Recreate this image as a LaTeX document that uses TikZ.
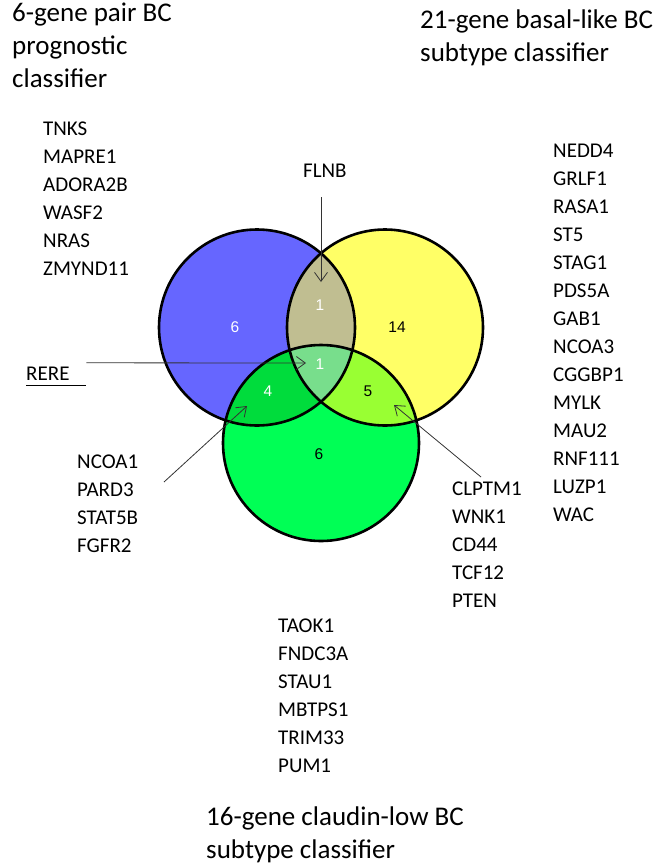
\documentclass[tikz,border=0pt]{standalone}
\usepackage{fontspec}
\setmainfont{Carlito}
\newfontfamily\numfont{Liberation Sans}
\usetikzlibrary{arrows.meta}

\definecolor{setblue}{RGB}{102,102,255}
\definecolor{setyellow}{RGB}{255,255,102}
\definecolor{setgreen}{RGB}{0,255,85}
\definecolor{byblend}{RGB}{192,190,145}
\definecolor{bgblend}{RGB}{0,220,60}
\definecolor{ygblend}{RGB}{153,255,51}
\definecolor{allblend}{RGB}{120,222,140}

\tikzset{
	title/.style={anchor=north west, inner sep=0pt, align=left, font=\fontsize{27}{33}\selectfont},
	genes/.style={anchor=north west, inner sep=0pt, align=left, font=\fontsize{21}{28}\selectfont},
	count/.style={font=\numfont\fontsize{15.5}{15.5}\selectfont},
	pointer/.style={draw=black!80, line width=0.8pt, -{Straight Barb[length=9pt,width=13pt]}},
	ring/.style={draw=black, line width=2.6pt}
}

\begin{document}
\begin{tikzpicture}[x=1pt, y=-1pt]
	\useasboundingbox (0,0) rectangle (660,868);

	% set centres
	\coordinate (cblue) at (257,327.5);
	\coordinate (cyellow) at (385,327.5);
	\coordinate (cgreen) at (321,443);

	% fills
	\fill[setblue] (cblue) circle (98);
	\fill[setyellow] (cyellow) circle (98);
	\fill[setgreen] (cgreen) circle (98);
	\begin{scope}
		\clip (cblue) circle (98);
		\fill[byblend] (cyellow) circle (98);
		\fill[bgblend] (cgreen) circle (98);
	\end{scope}
	\begin{scope}
		\clip (cyellow) circle (98);
		\fill[ygblend] (cgreen) circle (98);
		\clip (cgreen) circle (98);
		\fill[allblend] (cblue) circle (98);
	\end{scope}
	\draw[ring] (cblue) circle (98);
	\draw[ring] (cyellow) circle (98);
	\draw[ring] (cgreen) circle (98);

	% counts
	\node[count, white] (nblue) at (235,327) {6};
	\node[count, white] (nby) at (320,305) {1};
	\node[count] (nyellow) at (397,327) {14};
	\node[count, white] (nall) at (320,364) {1};
	\node[count, white] (nbg) at (268,391) {4};
	\node[count] (nyg) at (368,391) {5};
	\node[count] (ngreen) at (319,454) {6};

	% titles
	\node[title] (tblue) at (12,3) {6-gene pair BC\\prognostic\\classifier};
	\node[title] (tyellow) at (420,10) {21-gene basal-like BC\\subtype classifier};
	\node[title] (tgreen) at (206,807) {16-gene claudin-low BC\\subtype classifier};

	% gene lists
	\node[genes] (lblue) at (43,122) {TNKS\\MAPRE1\\ADORA2B\\WASF2\\NRAS\\ZMYND11};
	\node[genes] (lyellow) at (553,144) {NEDD4\\GRLF1\\RASA1\\ST5\\STAG1\\PDS5A\\GAB1\\NCOA3\\CGGBP1\\MYLK\\MAU2\\RNF111\\LUZP1\\WAC};
	\node[genes] (lgreen) at (278,619) {TAOK1\\FNDC3A\\STAU1\\MBTPS1\\TRIM33\\PUM1};
	\node[genes] (lbg) at (77,455) {NCOA1\\PARD3\\STAT5B\\FGFR2};
	\node[genes] (lyg) at (452,482) {CLPTM1\\WNK1\\CD44\\TCF12\\PTEN};
	\node[genes] (flnb) at (303,164) {FLNB};
	\node[genes, anchor=west, minimum height=22pt, text width=60pt] (rere) at (26,374) {RERE};
	\draw[line width=1pt] (rere.south west) -- (rere.south east);

	% pointers
	\coordinate (flnbtail) at (321,197);
	\coordinate (flnbtip) at (321,282);
	\coordinate (reretip) at (306,363);
	\coordinate (bgtail) at (164,482);
	\coordinate (bgtip) at (247,406);
	\coordinate (ygtail) at (481,477);
	\coordinate (ygtip) at (394,405);
	\draw[pointer] (flnbtail) -- (flnbtip);
	\draw[pointer] (rere.north east) -- (reretip);
	\draw[pointer] (bgtail) -- (bgtip);
	\draw[pointer] (ygtail) -- (ygtip);
\end{tikzpicture}
\end{document}
